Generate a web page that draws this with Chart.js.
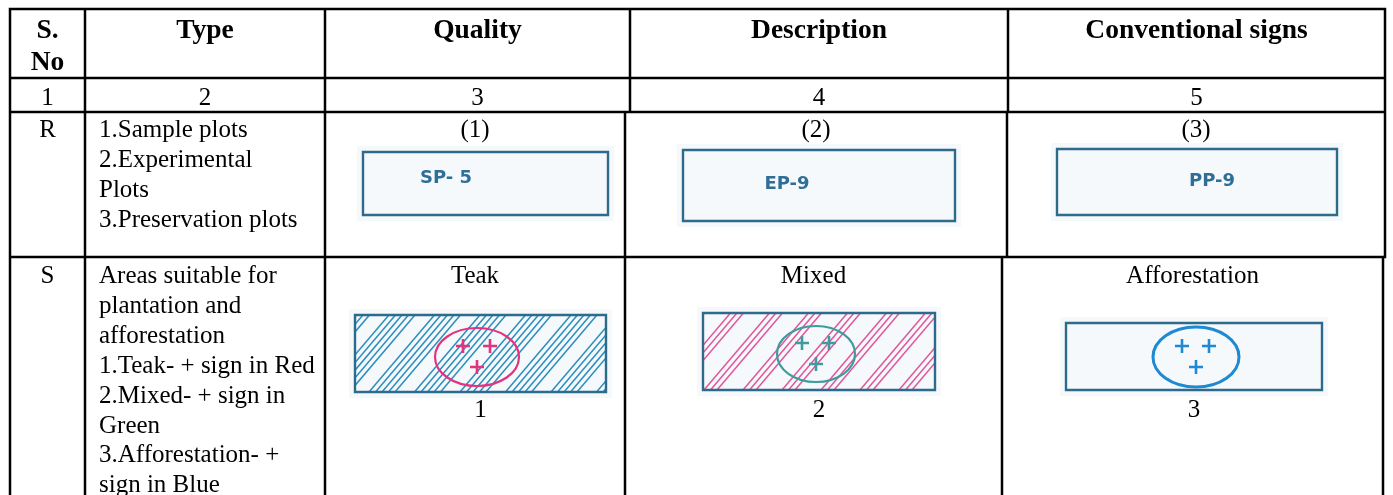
<!DOCTYPE html>
<html>
<head>
<meta charset="utf-8">
<script src="https://cdn.jsdelivr.net/npm/chart.js@4.4.0/dist/chart.umd.min.js"></script>
<style>
  html, body { margin: 0; padding: 0; background: #fff; }
  #wrap { width: 1393px; height: 495px; }
</style>
</head>
<body>
<div id="wrap"><canvas id="signs" width="1393" height="495"></canvas></div>
<script>
// table content
var headers = [["S.", "No"], ["Type"], ["Quality"], ["Description"], ["Conventional signs"]];
var colNumbers = ["1", "2", "3", "4", "5"];
var rowCodes = ["R", "S"];
var typeLines = [
  ["1.Sample plots", "2.Experimental", "Plots", "3.Preservation plots"],
  ["Areas suitable for", "plantation and", "afforestation", "1.Teak- + sign in Red",
   "2.Mixed- + sign in", "Green", "3.Afforestation- +", "sign in Blue"]
];
var signCaptions = [["(1)", "(2)", "(3)"], ["Teak", "Mixed", "Afforestation"]];
var plotCodes = ["SP- 5", "EP-9", "PP-9"];
var areaNumbers = ["1", "2", "3"];

// layout of the page (reference pixel units, mapped through the scales)
var rowEdges = [9, 78, 112, 257, 495];
var colEdges = [
  [10, 85, 325, 630, 1008, 1385],
  [10, 85, 325, 630, 1008, 1385],
  [10, 85, 325, 625, 1007, 1385],
  [10, 85, 325, 625, 1002, 1383]
];
var plotBoxes = [[363, 152, 608, 215], [683, 150, 955, 221], [1057, 149, 1337, 215]];
var codeSpots = [[446, 178], [787, 184], [1212, 181]];
var areaBoxes = [[355, 315, 606, 392], [703, 313, 935, 390], [1066, 323, 1322, 390]];
var rings = [[477, 357, 42, 29], [816, 354, 39, 28], [1196, 357, 43, 30]];
var hatchColours = ["#2a8dbd", "#e0559c", null];
// which strokes of the hatching are drawn (1) or left out (0), repeating
var hatchRuns = [[1, 1, 1, 1, 1, 0, 0], [1, 1, 1, 0, 0, 0], null];
var ringColours = ["#e2337e", "#3e9c9e", "#1f8ad2"];

// grid rules as one line dataset, gaps between segments
var gridPts = [];
rowEdges.slice(0, 4).forEach(function(y) {
  gridPts.push({x: 10, y: y}, {x: 1385, y: y}, {x: NaN, y: NaN});
});
colEdges.forEach(function(edges, r) {
  edges.forEach(function(x) {
    gridPts.push({x: x, y: rowEdges[r]}, {x: x, y: rowEdges[r + 1]}, {x: NaN, y: NaN});
  });
});

var framePts = [];
plotBoxes.concat(areaBoxes).forEach(function(b) {
  framePts.push({x: b[0], y: b[1]}, {x: b[2], y: b[1]}, {x: b[2], y: b[3]},
                {x: b[0], y: b[3]}, {x: b[0], y: b[1]}, {x: NaN, y: NaN});
});

function px(chart, x) { return chart.scales.x.getPixelForValue(x); }
function py(chart, y) { return chart.scales.y.getPixelForValue(y); }

function centreOf(edges, i) { return (edges[i] + edges[i + 1]) / 2; }

var signArt = {
  id: 'signArt',
  beforeDatasetsDraw: function(chart) {
    var ctx = chart.ctx;
    ctx.save();
    // faint scan background behind each sign
    ctx.fillStyle = '#f5f9fb';
    plotBoxes.concat(areaBoxes).forEach(function(b) {
      ctx.fillRect(px(chart, b[0] - 6), py(chart, b[1] - 6),
                   px(chart, b[2] + 6) - px(chart, b[0] - 6), py(chart, b[3] + 6) - py(chart, b[1] - 6));
    });
    // hatching
    areaBoxes.forEach(function(b, i) {
      if (!hatchColours[i]) return;
      var x0 = px(chart, b[0]), y0 = py(chart, b[1]), x1 = px(chart, b[2]), y1 = py(chart, b[3]);
      var h = y1 - y0, run = hatchRuns[i];
      ctx.save();
      ctx.beginPath();
      ctx.rect(x0, y0, x1 - x0, h);
      ctx.clip();
      ctx.strokeStyle = hatchColours[i];
      ctx.lineWidth = 1.5;
      var k = 0;
      for (var x = x0 - h; x < x1; x += 6.5) {
        if (run[k++ % run.length]) {
          ctx.beginPath();
          ctx.moveTo(x, y1);
          ctx.lineTo(x + h * 0.85, y0);
          ctx.stroke();
        }
      }
      ctx.restore();
    });
    // rings with plus signs
    rings.forEach(function(r, i) {
      var cx = px(chart, r[0]), cy = py(chart, r[1]);
      ctx.strokeStyle = ringColours[i];
      ctx.lineWidth = i === 2 ? 3 : 2.2;
      ctx.beginPath();
      ctx.ellipse(cx, cy, r[2], r[3], 0, 0, Math.PI * 2);
      ctx.stroke();
      ctx.lineWidth = 2.6;
      [[-14, -11], [13, -11], [0, 10]].forEach(function(o) {
        ctx.beginPath();
        ctx.moveTo(cx + o[0] - 7, cy + o[1]);
        ctx.lineTo(cx + o[0] + 7, cy + o[1]);
        ctx.moveTo(cx + o[0], cy + o[1] - 7);
        ctx.lineTo(cx + o[0], cy + o[1] + 7);
        ctx.stroke();
      });
    });
    ctx.restore();
  },
  afterDatasetsDraw: function(chart) {
    var ctx = chart.ctx;
    ctx.save();
    ctx.fillStyle = '#000';
    ctx.textAlign = 'center';
    ctx.textBaseline = 'alphabetic';
    // header
    ctx.font = 'bold 27.5px "Liberation Serif"';
    headers.forEach(function(lines, c) {
      lines.forEach(function(t, j) {
        ctx.fillText(t, px(chart, centreOf(colEdges[0], c)), py(chart, 38 + j * 32));
      });
    });
    ctx.font = '25px "Liberation Serif"';
    colNumbers.forEach(function(t, c) {
      ctx.fillText(t, px(chart, centreOf(colEdges[1], c)), py(chart, 105));
    });
    var firstLine = [137, 283];
    rowCodes.forEach(function(code, r) {
      var edges = colEdges[r + 2];
      ctx.textAlign = 'center';
      ctx.fillText(code, px(chart, centreOf(edges, 0)), py(chart, firstLine[r]));
      signCaptions[r].forEach(function(t, c) {
        ctx.fillText(t, px(chart, centreOf(edges, c + 2)), py(chart, firstLine[r]));
      });
      ctx.textAlign = 'left';
      typeLines[r].forEach(function(t, j) {
        ctx.fillText(t, px(chart, edges[1] + 14), py(chart, firstLine[r] + j * 29.9));
      });
    });
    ctx.textAlign = 'center';
    areaNumbers.forEach(function(t, c) {
      ctx.fillText(t, px(chart, (areaBoxes[c][0] + areaBoxes[c][2]) / 2), py(chart, 417));
    });
    // plot codes in the frames
    ctx.font = 'bold 18px "DejaVu Sans"';
    ctx.fillStyle = '#2f6f97';
    ctx.textBaseline = 'middle';
    plotCodes.forEach(function(t, c) {
      ctx.fillText(t, px(chart, codeSpots[c][0]), py(chart, codeSpots[c][1]));
    });
    ctx.restore();
  }
};

new Chart(document.getElementById('signs'), {
  type: 'scatter',
  data: {
    datasets: [
      {
        label: 'rules',
        data: gridPts,
        showLine: true,
        spanGaps: false,
        borderColor: '#000',
        borderWidth: 2.5,
        borderCapStyle: 'square',
        pointRadius: 0
      },
      {
        label: 'frames',
        data: framePts,
        showLine: true,
        spanGaps: false,
        borderColor: '#2e6a8a',
        borderWidth: 2.4,
        borderCapStyle: 'square',
        pointRadius: 0
      }
    ]
  },
  options: {
    responsive: false,
    animation: false,
    devicePixelRatio: 1,
    layout: { padding: 0 },
    plugins: { legend: { display: false }, tooltip: { enabled: false } },
    scales: {
      x: { type: 'linear', display: false, min: 0, max: 1393 },
      y: { type: 'linear', display: false, min: 0, max: 495, reverse: true }
    }
  },
  plugins: [signArt]
});
</script>
</body>
</html>
